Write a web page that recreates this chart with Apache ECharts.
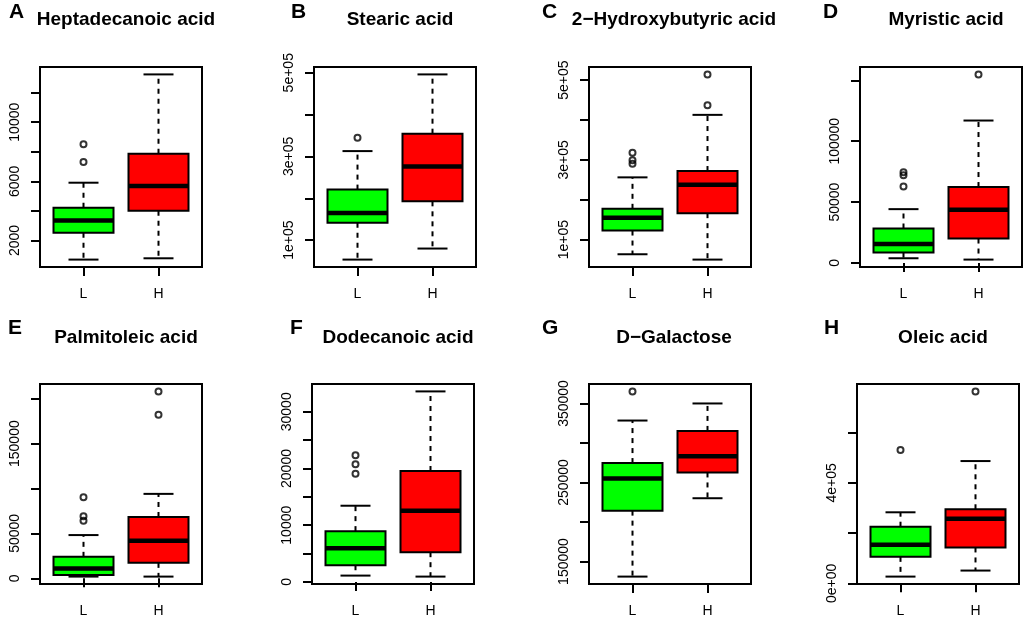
<!DOCTYPE html>
<html lang="en">

<head>
  <meta charset="UTF-8">
  <title>Boxplots</title>
  <style>
    html, body { margin: 0; padding: 0; background: #fff; }
  </style>
</head>

<body>
  <div class="main" style="width: 1024px;height:618px;"></div>

  <script src="https://cdn.jsdelivr.net/npm/echarts@6/dist/echarts.min.js"></script>
  <script>
    // 各个面板的标题和字母
    const titles = ['Heptadecanoic acid', 'Stearic acid', '2\u2212Hydroxybutyric acid', 'Myristic acid',
      'Palmitoleic acid', 'Dodecanoic acid', 'D\u2212Galactose', 'Oleic acid']
    const letters = ['A', 'B', 'C', 'D', 'E', 'F', 'G', 'H']
    const groups = ['L', 'H']

    // [min, Q1, median, Q3, max]
    const statsL = [
      [712, 2520, 3356, 4215, 5910],
      [53600, 141600, 164800, 220800, 312800],
      [63100, 122600, 154500, 177100, 256000],
      [3850, 8500, 15660, 28300, 44200],
      [1866, 3730, 10820, 23880, 48130],
      [1120, 2946, 5950, 8957, 13436],
      [130930, 214400, 255080, 274580, 328390],
      [26700, 105300, 153300, 225300, 282700]
    ]
    const statsH = [
      [800, 4011, 5684, 7876, 13232],
      [80000, 192800, 276000, 354400, 496000],
      [49700, 166200, 237500, 271900, 412800],
      [2750, 20050, 43700, 62360, 117000],
      [1866, 17160, 41790, 68280, 94030],
      [943, 5245, 12550, 19560, 33590],
      [230080, 262710, 283050, 315250, 350000],
      [50700, 142700, 257300, 294700, 486700]
    ]
    // 离群点
    const outL = [[7311, 8508], [344800], [290400, 298700, 318000], [62900, 72000, 74450],
      [64000, 69000, 90300], [19090, 20740, 22330], [365250], [530700]]
    const outH = [[], [], [437100, 514300], [154900], [182090, 208200], [], [], [764000]]

    // 刻度和刻度标签
    const tickValues = [
      [2000, 4000, 6000, 8000, 10000, 12000],
      [100000, 200000, 300000, 400000, 500000],
      [100000, 200000, 300000, 400000, 500000],
      [0, 50000, 100000, 150000],
      [0, 50000, 100000, 150000, 200000],
      [0, 5000, 10000, 15000, 20000, 25000, 30000],
      [150000, 200000, 250000, 300000, 350000],
      [0, 200000, 400000, 600000]
    ]
    const labelValues = [
      [2000, 6000, 10000],
      [100000, 300000, 500000],
      [100000, 300000, 500000],
      [0, 50000, 100000],
      [0, 50000, 150000],
      [0, 10000, 20000, 30000],
      [150000, 250000, 350000],
      [0, 400000]
    ]
    const labelTexts = [
      ['2000', '6000', '10000'],
      ['1e+05', '3e+05', '5e+05'],
      ['1e+05', '3e+05', '5e+05'],
      ['0', '50000', '100000'],
      ['0', '50000', '150000'],
      ['0', '10000', '20000', '30000'],
      ['150000', '250000', '350000'],
      ['0e+00', '4e+05']
    ]

    // 布局
    const gridLeft = [40, 314, 589, 860, 40, 312, 589, 857]
    const rowTop = [67, 384]
    const titleX = [121, 395, 669, 941, 121, 393, 669, 938]
    const letterX = [4, 286, 537, 818, 3, 285, 537, 819]
    const boxColors = ['#00ff00', '#ff0000']
    const font = 'Liberation Sans, Arial, sans-serif'

    var myChart = echarts.init(document.querySelector('.main'))

    const renderBox = (params, api) => {
      const x = api.value(0)
      const v = [1, 2, 3, 4, 5].map(k => api.value(k))
      const y = v.map(val => api.coord([x, val])[1])
      const cx = api.coord([x, v[2]])[0]
      const bl = api.coord([x - 0.4, v[2]])[0]
      const br = api.coord([x + 0.4, v[2]])[0]
      const cl = api.coord([x - 0.2, v[2]])[0]
      const cr = api.coord([x + 0.2, v[2]])[0]
      const dash = { stroke: '#000', lineWidth: 2, lineDash: [5, 5] }
      const solid = { stroke: '#000', lineWidth: 2 }
      return {
        type: 'group',
        children: [
          { type: 'line', shape: { x1: cx, y1: y[3], x2: cx, y2: y[4] }, style: dash },
          { type: 'line', shape: { x1: cx, y1: y[1], x2: cx, y2: y[0] }, style: dash },
          { type: 'line', shape: { x1: cl, y1: y[4], x2: cr, y2: y[4] }, style: solid },
          { type: 'line', shape: { x1: cl, y1: y[0], x2: cr, y2: y[0] }, style: solid },
          {
            type: 'rect', shape: { x: bl, y: y[3], width: br - bl, height: y[1] - y[3] },
            style: { fill: boxColors[x - 1], stroke: '#000', lineWidth: 2 }
          },
          { type: 'line', shape: { x1: bl, y1: y[2], x2: br, y2: y[2] }, style: { stroke: '#000', lineWidth: 4.5 } }
        ]
      }
    }

    const grid = [], xAxis = [], yAxis = [], series = [], title = []

    titles.forEach((name, i) => {
      const row = i < 4 ? 0 : 1
      const all = [...statsL[i], ...statsH[i], ...outL[i], ...outH[i]]
      const lo = Math.min(...all), hi = Math.max(...all)
      const pad = (hi - lo) * 0.04

      grid.push({
        left: gridLeft[i], top: rowTop[row], width: 162, height: 200,
        show: true, borderColor: '#000', borderWidth: 2, backgroundColor: 'transparent'
      })
      xAxis.push({
        gridIndex: i, type: 'value', min: 0.42, max: 2.58,
        axisLine: { show: false }, splitLine: { show: false },
        axisTick: { customValues: [1, 2], length: 9, lineStyle: { color: '#000', width: 2 } },
        axisLabel: {
          customValues: [1, 2], formatter: val => groups[val - 1],
          color: '#000', fontSize: 14, fontFamily: font, margin: 20
        }
      })
      yAxis.push({
        gridIndex: i, type: 'value', min: lo - pad, max: hi + pad,
        axisLine: { show: false }, splitLine: { show: false },
        axisTick: { customValues: tickValues[i], length: 9, lineStyle: { color: '#000', width: 2 } },
        axisLabel: {
          customValues: labelValues[i], rotate: 90,
          formatter: val => labelTexts[i][labelValues[i].indexOf(val)],
          color: '#000', fontSize: 14, fontFamily: font, margin: 18
        }
      })
      series.push({
        type: 'custom', xAxisIndex: i, yAxisIndex: i,
        renderItem: renderBox,
        encode: { x: 0, y: [1, 2, 3, 4, 5] },
        data: [[1, ...statsL[i]], [2, ...statsH[i]]]
      })
      series.push({
        type: 'scatter', xAxisIndex: i, yAxisIndex: i,
        symbol: 'circle', symbolSize: 6,
        itemStyle: { color: 'transparent', borderColor: '#000', borderWidth: 2 },
        data: [...outL[i].map(v => [1, v]), ...outH[i].map(v => [2, v])]
      })
      title.push({
        text: name, left: titleX[i], textAlign: 'center', top: row === 0 ? 5 : 323,
        textStyle: { fontSize: 19, fontWeight: 'bold', color: '#000', fontFamily: font }
      })
      title.push({
        text: letters[i], left: letterX[i], top: row === 0 ? -3 : 313,
        textStyle: { fontSize: 21, fontWeight: 'bold', color: '#000', fontFamily: font }
      })
    })

    var option = {
      animation: false,
      backgroundColor: '#fff',
      title: title,
      grid: grid,
      xAxis: xAxis,
      yAxis: yAxis,
      series: series
    }

    myChart.setOption(option)
  </script>
</body>

</html>
